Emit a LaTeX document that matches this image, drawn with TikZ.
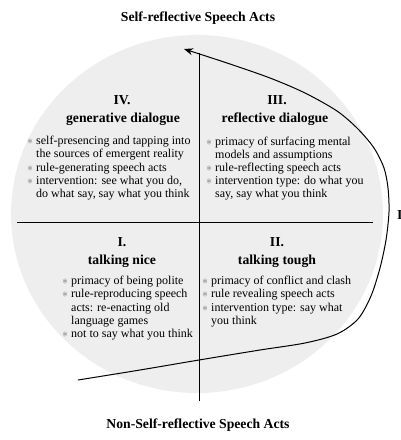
\documentclass[tikz,border=0pt]{standalone}
\usepackage{fontspec}
\setmainfont{Liberation Serif}
\usetikzlibrary{arrows.meta}
\definecolor{diskgray}{HTML}{EEEEEE}
\definecolor{bulgray}{HTML}{707070}
\newcommand{\bu}{\textcolor{bulgray}{$\ast$}\ }
\newcommand{\ind}{\hphantom{$\ast$\ }}
\begin{document}
\begin{tikzpicture}[x=1pt,y=-1pt,
  titletext/.style={font=\fontsize{13.7}{16}\selectfont\bfseries, inner sep=0pt, anchor=base},
  headtext/.style={font=\fontsize{13.7}{16}\selectfont\bfseries, inner sep=0pt, anchor=base},
  bodytext/.style={font=\fontsize{12}{13.2}\selectfont, align=left, inner sep=0pt, anchor=north west},
  axis/.style={line width=0.9pt, black},
  cyc/.style={line width=1pt, black, -{Stealth[length=9pt,width=7pt]}}
]
\useasboundingbox (0,0) rectangle (400,440);
% disk
\fill[diskgray] (197,214) ellipse [x radius=186, y radius=179];
% axes
\coordinate (vt) at (199,53);
\coordinate (vb) at (199,401);
\coordinate (hl) at (17,222);
\coordinate (hr) at (373,222);
\draw[axis] (vt) -- (vb);
\draw[axis] (hl) -- (hr);
% cycle curve
\draw[cyc] plot[smooth, tension=0.5] coordinates {(78,380) (140,370) (199,360) (260,350) (305,343) (337,334) (358,319) (371,296) (380,268) (386,240) (389,212) (388,188) (384,168) (374,148) (358,129) (337,111) (305,93) (270,78) (227,63) (184,49)};
% titles
\node[titletext] (top) at (198,21.5) {Self-reflective Speech Acts};
\node[titletext] (bot) at (198,428.5) {Non-Self-reflective Speech Acts};
\node[titletext, anchor=base west] (side) at (397,219.5) {I};
% quadrant IV
\node[headtext] (q4n) at (122,104.5) {IV.};
\node[headtext] (q4t) at (123,122) {generative dialogue};
\node[bodytext] (q4b) at (27,136) {\bu self-presencing and tapping into\\
\ind the sources of emergent reality\\
\bu rule-generating speech acts\\
\bu intervention: see what you do,\\
\ind do what say, say what you think};
% quadrant III
\node[headtext] (q3n) at (277,104.5) {III.};
\node[headtext] (q3t) at (275,122) {reflective dialogue};
\node[bodytext] (q3b) at (206,136.5) {\bu primacy of surfacing mental\\
\ind models and assumptions\\
\bu rule-reflecting speech acts\\
\bu intervention type: do what you\\
\ind say, say what you think};
% quadrant I
\node[headtext] (q1n) at (122,246.5) {I.};
\node[headtext] (q1t) at (122,264) {talking nice};
\node[bodytext] (q1b) at (62,276) {\bu primacy of being polite\\
\bu rule-reproducing speech\\
\ind acts: re-enacting old\\
\ind language games\\
\bu not to say what you think};
% quadrant II
\node[headtext] (q2n) at (277,246.5) {II.};
\node[headtext] (q2t) at (277,264) {talking tough};
\node[bodytext] (q2b) at (202,276) {\bu primacy of conflict and clash\\
\bu rule revealing speech acts\\
\bu intervention type: say what\\
\ind you think};
\end{tikzpicture}
\end{document}
